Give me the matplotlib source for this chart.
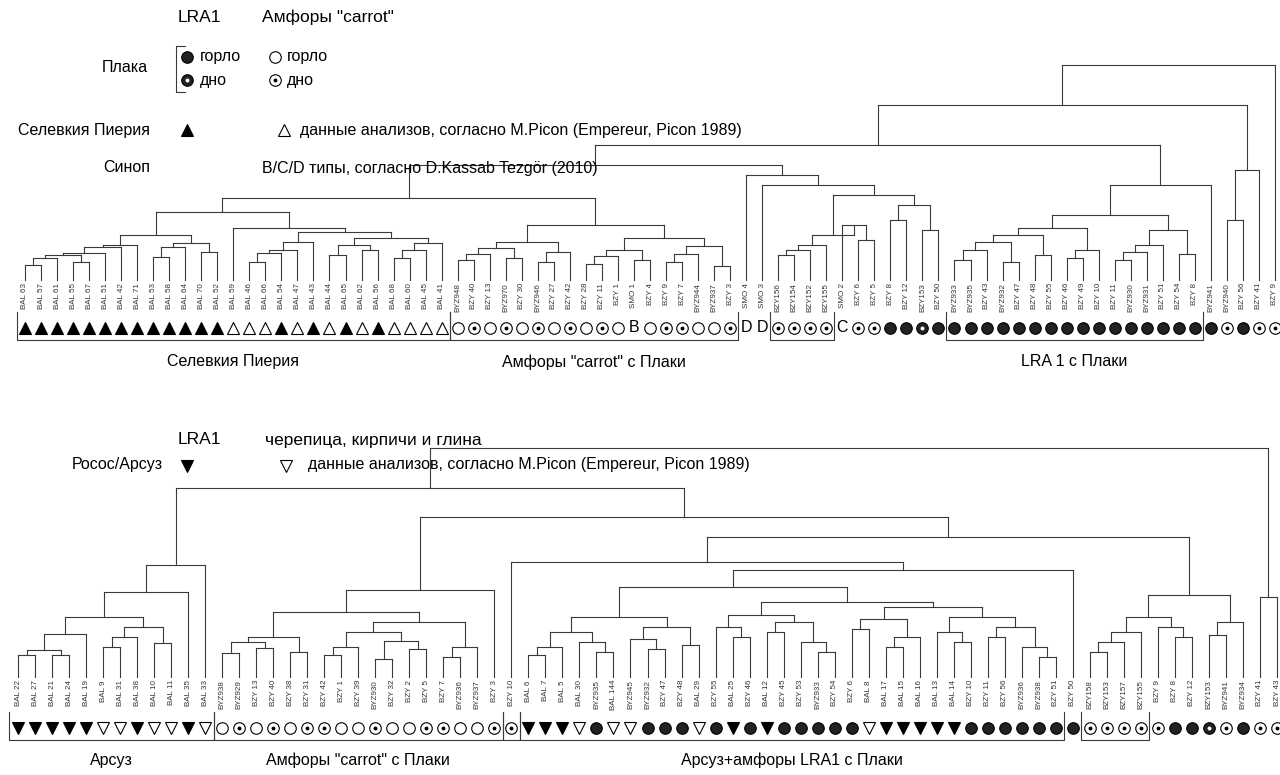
import matplotlib.pyplot as plt

plt.rcParams['font.family'] = ['Liberation Sans', 'DejaVu Sans']

# ---------- данные: верхняя дендрограмма ----------
top_labels = [
    "BAL 63", "BAL 57", "BAL 61", "BAL 55", "BAL 67", "BAL 51", "BAL 42", "BAL 71", "BAL 53",
    "BAL 58", "BAL 64", "BAL 70", "BAL 52", "BAL 59", "BAL 46", "BAL 66", "BAL 54", "BAL 47",
    "BAL 43", "BAL 44", "BAL 65", "BAL 62", "BAL 56", "BAL 68", "BAL 60", "BAL 45", "BAL 41",
    "BYZ948", "BZY 40", "BZY 13", "BYZ970", "BZY 30", "BYZ946", "BZY 27", "BZY 42", "BZY 28",
    "BZY 11", "BZY 1", "SMO 1", "BZY 4", "BZY 9", "BZY 7", "BYZ944", "BYZ937", "BZY 3",
    "SMO 4", "SMO 3", "BZY156", "BZY154", "BZY152", "BZY155", "SMO 2", "BZY 6", "BZY 5",
    "BZY 8", "BZY 12", "BZY153", "BZY 50", "BYZ933", "BYZ935", "BZY 43", "BYZ932", "BZY 47",
    "BZY 48", "BZY 55", "BZY 46", "BZY 49", "BZY 10", "BZY 11", "BYZ930", "BYZ931", "BZY 51",
    "BZY 54", "BZY 8", "BYZ941", "BYZ940", "BZY 56", "BZY 41", "BZY 9",
]
top_marks = ("TTTTTTTTTTTTT" "tttTtTtTtTtttt"
             "ocococococoBoccooc" "DD" "cccc" "Ccc" "LLlL"
             "LLLLLLLLLLLLLLLL" "LcLcc")

# узел: номер листа или (расстояние, левый, правый)
sel_a = (45, (35, (33, (27, (25, (22, (15, 0, 1), 2), (18, 3, 4)), 5), 6), 7),
         (37, (33, (23, 8, 9), 10), (28, 11, 12)))
sel_b = (52, 13, (48, (38, (30, (27, (18, 14, 15), 16), 17), 18),
                  (42, (35, (25, 19, 20), (30, 21, 22)), (37, (30, (22, 23, 24), 25), 26))))
carrot_top = (55, (38, (32, (26, (20, 27, 28), 29), (22, 30, 31)), (28, (18, 32, 33), 34)),
              (42, (30, (24, (16, 35, 36), 37), (20, 38, 39)),
               (34, (26, (18, 40, 41), 42), (14, 43, 44))))
mid_top = (105, 45, (95, 46, (85, (45, (35, (30, (25, 47, 48), 49), 50), (55, 51, (40, 52, 53))),
                               (75, (60, 54, 55), (50, 56, 57)))))
lra_top = (95, (65, (52, (45, (38, (30, (20, 58, 59), 60), (18, 61, 62)), (25, 63, 64)),
                     (30, (22, 65, 66), 67)),
                (50, (35, (28, (20, 68, 69), 70), 71), (26, 72, 73))), 74)
top_tree = (215, (175, (135, (115, (82, (68, sel_a, sel_b), carrot_top), mid_top), lra_top),
                  (110, (60, 75, 76), 77)), 78)
top_groups = [("Селевкия Пиерия", 0, 26), ("Амфоры \"carrot\" с Плаки", 27, 44),
              ("", 47, 50), ("LRA 1 с Плаки", 58, 73)]

# ---------- данные: нижняя дендрограмма ----------
bot_labels = [
    "BAL 22", "BAL 27", "BAL 21", "BAL 24", "BAL 19", "BAL 9", "BAL 31", "BAL 38", "BAL 10",
    "BAL 11", "BAL 35", "BAL 33",
    "BYZ938", "BYZ929", "BZY 13", "BZY 40", "BZY 38", "BZY 31", "BZY 42", "BZY 1", "BZY 39",
    "BYZ930", "BZY 32", "BZY 2", "BZY 5", "BZY 7", "BYZ936", "BYZ937", "BZY 3",
    "BZY 10",
    "BAL 6", "BAL 7", "BAL 5", "BAL 30", "BYZ935", "BAL 144", "BYZ945", "BYZ932", "BZY 47",
    "BZY 48", "BAL 29", "BZY 55", "BAL 25", "BZY 46", "BAL 12", "BZY 45", "BZY 53", "BYZ933",
    "BZY 54", "BZY 6", "BAL 8", "BAL 17", "BAL 15", "BAL 16", "BAL 13", "BAL 14", "BZY 10",
    "BZY 11", "BZY 56", "BYZ936", "BYZ938", "BZY 51",
    "BZY 50", "BZY158", "BZY153", "BZY157", "BZY155", "BZY 9", "BZY 8", "BZY 12", "BZY153",
    "BYZ941", "BYZ934", "BZY 41", "BZY 43",
]
bot_marks = ("VVVVVvvVvvVv" "ocococcoocooccooc" "c"
             "VVVvLvvLLLvLVLVLLLLLvVVVVVLLLLLL" "L" "cccc" "cLLlcLcc")

ars = (112, (85, (60, (43, (27, (22, 0, 1), (22, 2, 3)), 4),
                  (50, (40, (30, 5, 6), 7), (34, 8, 9))), 10), 11)
carrot_bot = (87, (65, (40, (35, (24, 12, 13), (29, 14, 15)), (25, 16, 17)),
                   (55, (45, (30, (22, 18, 19), 20), (36, (18, 21, 22), (28, 23, 24))),
                    (30, (20, 25, 26), 27))), 28)
mix = (107, (90, (60, (45, (30, (22, 30, 31), 32), (35, 33, (25, 34, 35))),
                  (50, (38, 36, (28, 37, 38)), (32, 39, 40))),
             (75, (62, (50, 41, (40, 42, 43)), (55, (45, 44, 45), (35, 46, (25, 47, 48)))),
              (70, (58, (48, 49, 50), (40, (30, 51, 52), 53)),
               (60, (45, 54, (35, 55, 56)), (50, (40, 57, 58), (30, 59, (20, 60, 61))))))),
       62)
right_core = (82, (60, (45, (35, (25, 63, 64), 65), 66), (50, 67, (40, 68, 69))),
              (55, (42, 70, 71), 72))
bot_tree = (229, (189, ars, (160, carrot_bot, (140, (115, 29, mix), right_core))),
            (80, 73, 74))
bot_groups = [("Арсуз", 0, 11), ("Амфоры \"carrot\" с Плаки", 12, 28), ("", 29, 29),
              ("Арсуз+амфоры LRA1 с Плаки", 30, 61), ("", 63, 66)]

LC = '#3a3a3a'


def draw_tree(ax, node):
    if isinstance(node, int):
        return node, 0.0
    h = node[0]
    pts = [draw_tree(ax, ch) for ch in node[1:]]
    xs = [p[0] for p in pts]
    for x, y in pts:
        ax.plot([x, x], [y, h], color=LC, lw=0.8)
    ax.plot([min(xs), max(xs)], [h, h], color=LC, lw=0.8)
    return sum(xs) / len(xs), h


def draw_mark(ax, x, y, code):
    kw = dict(ls='none', markeredgecolor='black', markeredgewidth=0.8, zorder=3)
    if code == 'T':
        ax.plot(x, y, marker='^', ms=9, markerfacecolor='black', **kw)
    elif code == 't':
        ax.plot(x, y, marker='^', ms=9, markerfacecolor='white', **kw)
    elif code == 'V':
        ax.plot(x, y, marker='v', ms=9, markerfacecolor='black', **kw)
    elif code == 'v':
        ax.plot(x, y, marker='v', ms=9, markerfacecolor='white', **kw)
    elif code == 'L':
        ax.plot(x, y, marker='o', ms=8.3, markerfacecolor='#222', **kw)
    elif code == 'l':
        ax.plot(x, y, marker='o', ms=8.3, markerfacecolor='#222', **kw)
        ax.plot(x, y, marker='o', ms=2.8, markerfacecolor='white', ls='none',
                markeredgewidth=0, zorder=4)
    elif code == 'o':
        ax.plot(x, y, marker='o', ms=8.3, markerfacecolor='white', **kw)
    elif code == 'c':
        ax.plot(x, y, marker='o', ms=8.3, markerfacecolor='white', **kw)
        ax.plot(x, y, marker='o', ms=2.8, markerfacecolor='black', ls='none',
                markeredgewidth=0, zorder=4)
    else:
        ax.text(x, y, code, ha='center', va='center', fontsize=11.5)


def panel(ax, tree, labels, marks, groups, y_mark, y_br_top, y_br_bot, y_grp):
    draw_tree(ax, tree)
    for i, (lab, m) in enumerate(zip(labels, marks)):
        ax.text(i, -3, lab, rotation=90, ha='center', va='top', fontsize=5.8, color='#333')
        draw_mark(ax, i, y_mark, m)
    for name, a, b in groups:
        x0, x1 = a - 0.5, b + 0.5
        ax.plot([x0, x0, x1, x1], [y_br_top, y_br_bot, y_br_bot, y_br_top], color=LC, lw=0.8)
        if name:
            ax.text((x0 + x1) / 2, y_grp, name, ha='center', va='center', fontsize=11.5)
    ax.axis('off')


W, H = 1280, 775
fig = plt.figure(figsize=(W / 100, H / 100), dpi=100)

# верхняя панель: px y 40..380, листья от 25 до 1275 px
n1 = len(top_labels)
s1 = (1275 - 25) / (n1 - 1)
ax1 = fig.add_axes([0, 1 - 380 / H, 1, 340 / H])
ax1.set_xlim(-25 / s1, (W - 25) / s1)
ax1.set_ylim(-100, 240)
panel(ax1, top_tree, top_labels, top_marks, top_groups, -48, -32, -60, -82)

# нижняя панель: px y 420..775
n2 = len(bot_labels)
s2 = (1277 - 18) / (n2 - 1)
ax2 = fig.add_axes([0, 0, 1, 355 / H])
ax2.set_xlim(-18 / s2, (W - 18) / s2)
ax2.set_ylim(-98, 257)
panel(ax2, bot_tree, bot_labels, bot_marks, bot_groups, -51, -35, -63, -83)


def t(x, y, s, **kw):
    kw.setdefault('fontsize', 11.5)
    kw.setdefault('va', 'center')
    fig.text(x / W, 1 - y / H, s, **kw)


# легенда сверху
t(178, 17, "LRA1", fontsize=12.5)
t(262, 17, "Амфоры \"carrot\"", fontsize=12.5)
t(148, 68, "Плака", ha='right')
t(200, 57, "горло")
t(200, 80, "дно")
t(287, 57, "горло")
t(287, 80, "дно")
t(150, 130, "Селевкия Пиерия", ha='right')
t(300, 130, "данные анализов, согласно M.Picon (Empereur, Picon 1989)")
t(150, 168, "Синоп", ha='right')
t(262, 168, "B/C/D типы, согласно D.Kassab Tezgör (2010)")
lx = fig.add_axes([0, 0, 1, 1], facecolor='none')
lx.set_xlim(0, W)
lx.set_ylim(H, 0)
lx.axis('off')
lx.plot([185, 176, 176, 185], [46, 46, 92, 92], color=LC, lw=0.8)
draw_mark(lx, 187, 57, 'L')
draw_mark(lx, 187, 80, 'l')
draw_mark(lx, 275, 57, 'o')
draw_mark(lx, 275, 80, 'c')
draw_mark(lx, 187, 130, 'T')
draw_mark(lx, 284, 130, 't')

# легенда снизу
t(178, 440, "LRA1", fontsize=12.5)
t(265, 440, "черепица, кирпичи и глина", fontsize=12.5)
t(163, 465, "Росос/Арсуз", ha='right')
t(308, 465, "данные анализов, согласно M.Picon (Empereur, Picon 1989)")
draw_mark(lx, 187, 466, 'V')
draw_mark(lx, 286, 466, 'v')

fig.savefig("out.png", dpi=100)
